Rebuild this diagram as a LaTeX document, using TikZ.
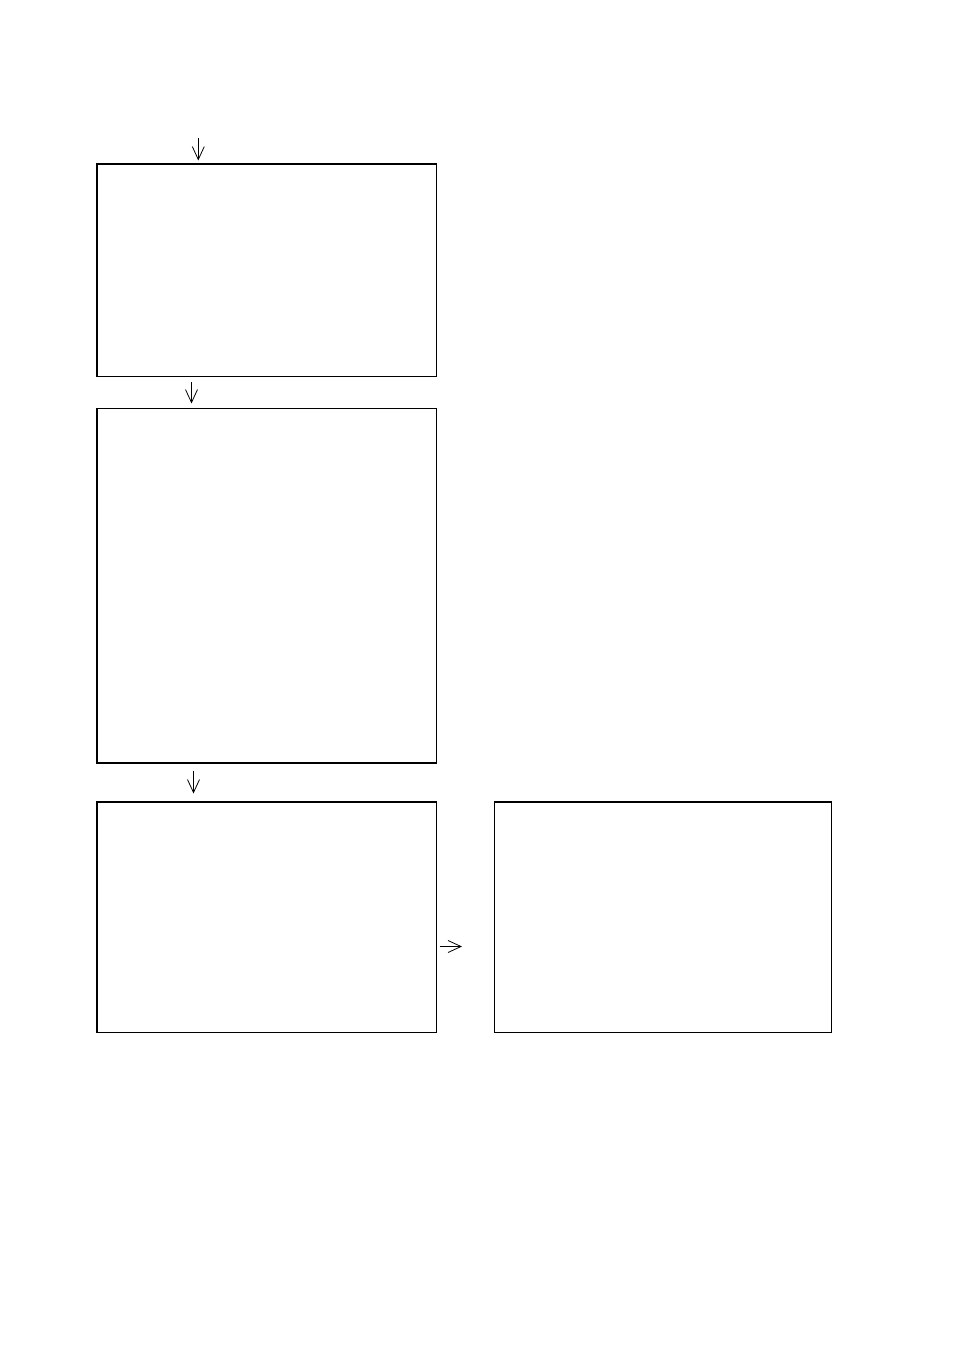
\documentclass[tikz,border=0pt]{standalone}
\usetikzlibrary{arrows.meta}
\begin{document}
\begin{tikzpicture}[x=1pt,y=-1pt,
  boxstyle/.style={draw=black,line width=1.1pt},
  flowarrow/.style={draw=black,line width=0.8pt,-{Straight Barb[length=13pt,width=12pt,line width=0.8pt]}}]
\useasboundingbox[fill=white] (0,0) rectangle (954,1351);
\path[boxstyle] (97,164) rectangle (436.5,376.5);
\path[boxstyle] (97,408.3) rectangle (436.5,763);
\path[boxstyle] (97,801.7) rectangle (436.5,1032.3);
\draw[line width=1.6pt] (97,801.7) -- (436.5,801.7);
\path[boxstyle] (494.5,801.7) rectangle (831.5,1032.3);
\draw[line width=1.6pt] (494.5,801.7) -- (831.5,801.7);
\coordinate (a1s) at (198.3,138);
\coordinate (a1e) at (198.3,160.5);
\coordinate (a2s) at (191.5,382);
\coordinate (a2e) at (191.5,403.5);
\coordinate (a3s) at (193.5,770.5);
\coordinate (a3e) at (193.5,793.5);
\coordinate (a4s) at (439.5,946.5);
\coordinate (a4e) at (462,946.5);
\draw[flowarrow] (a1s) -- (a1e);
\draw[flowarrow] (a2s) -- (a2e);
\draw[flowarrow] (a3s) -- (a3e);
\draw[flowarrow] (a4s) -- (a4e);
\end{tikzpicture}
\end{document}
